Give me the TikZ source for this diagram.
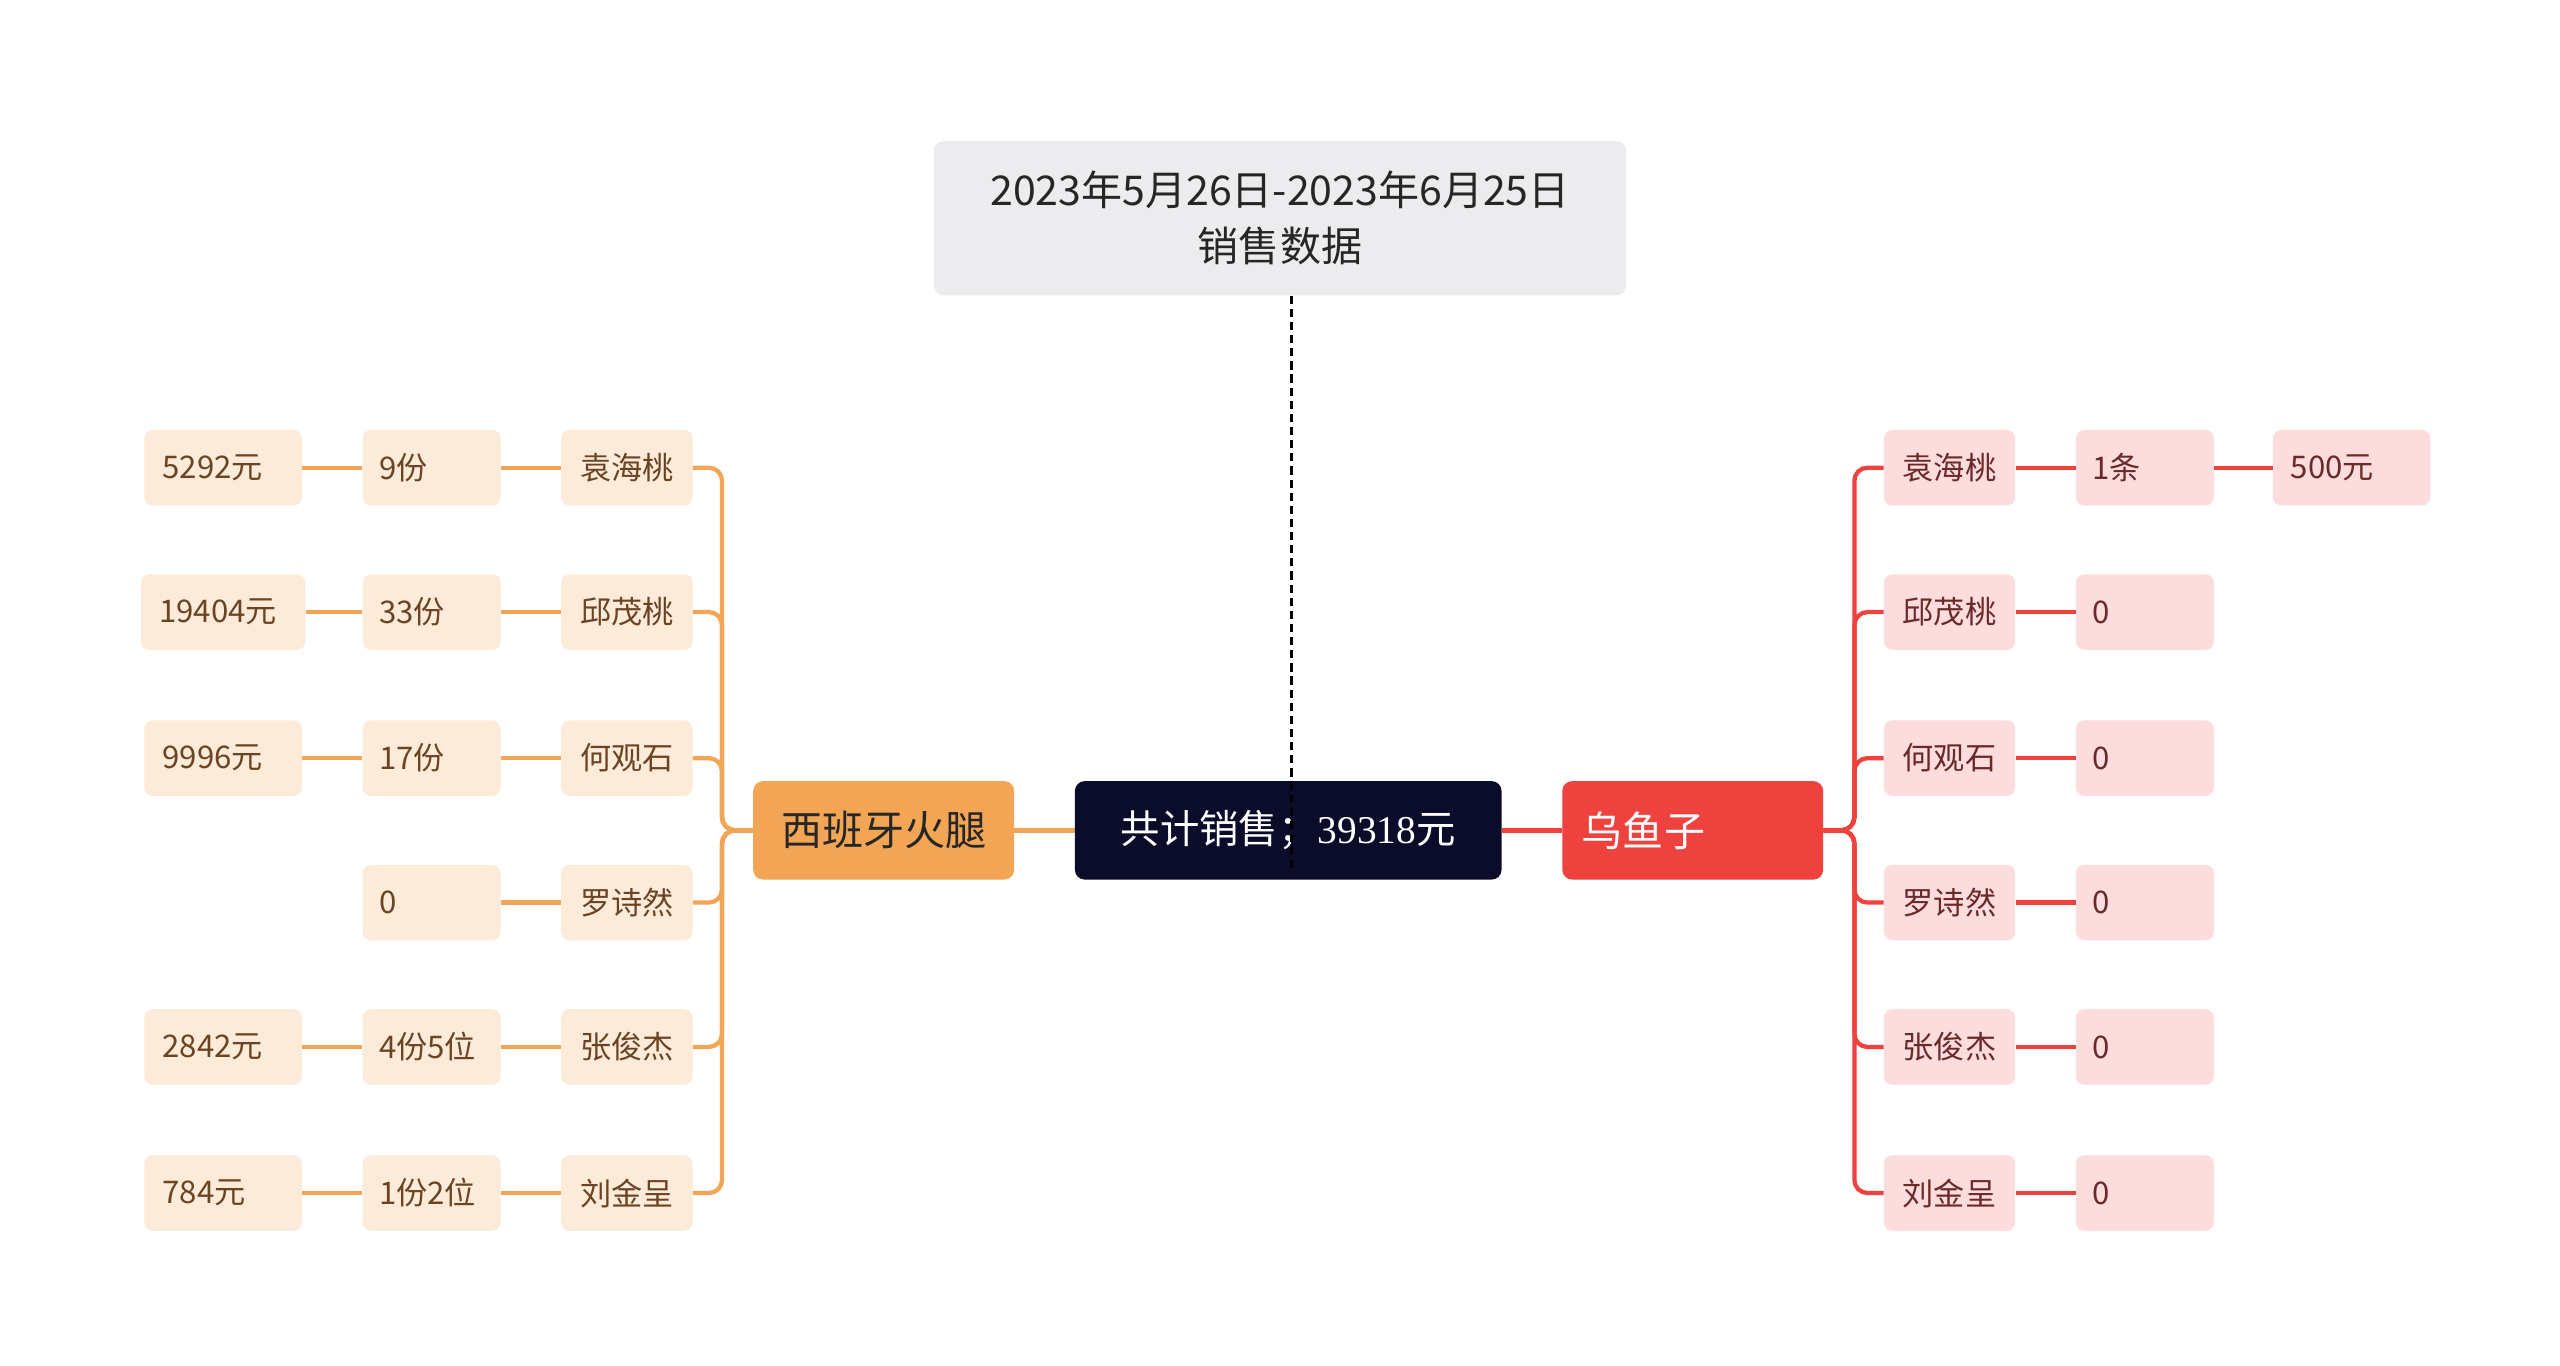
\documentclass[tikz,border=0pt]{standalone}
\usepackage{fontspec}
\setmainfont{Noto Sans CJK SC}
\newfontfamily\serifdig{Liberation Serif}
\definecolor{lfill}{HTML}{FDEBDA}
\definecolor{ltext}{HTML}{6B4424}
\definecolor{rfill}{HTML}{FDDCDD}
\definecolor{rtext}{HTML}{6B2A2A}
\definecolor{lcol}{HTML}{F2A554}
\definecolor{rcol}{HTML}{EE423E}
\definecolor{navy}{HTML}{0B0B2A}
\definecolor{tfill}{HTML}{ECECEE}
\begin{document}
\begin{tikzpicture}[x=1pt,y=-1pt,
  base/.style={rounded corners=5pt,minimum height=46pt,inner sep=0pt,font=\fontsize{19}{22}\selectfont},
  lbox/.style={base,fill=lfill,text=ltext},
  rbox/.style={base,fill=rfill,text=rtext},
  lline/.style={draw=lcol,line width=2.6pt},
  rline/.style={draw=rcol,line width=2.6pt}]
\useasboundingbox (0,0) rectangle (1560,832);
\fill[white] (0,0) rectangle (1560,832);
% main nodes
\node[rounded corners=6pt,fill=tfill,minimum width=422pt,minimum height=94pt,align=center,font=\fontsize{25}{34}\selectfont,text=black!85] (title) at (780,133) {2023年5月26日-2023年6月25日\\销售数据};
\node[rounded corners=6pt,fill=lcol,minimum width=159pt,minimum height=60pt,font=\fontsize{25}{30}\selectfont,text=black!85] (L) at (538.5,506) {西班牙火腿};
\node[rounded corners=6pt,fill=rcol,minimum width=159pt,minimum height=60pt,font=\fontsize{25}{30}\selectfont,text=white,text width=135pt] (R) at (1031.5,506) {乌鱼子};
\draw[lline] (L.east) -- (655,506);
\draw[rline] (R.west) -- (915,506);
\node[rounded corners=6pt,fill=navy,minimum width=260pt,minimum height=60pt,font=\fontsize{24}{30}\selectfont,text=white] (C) at (785,506) {共计销售；{\serifdig 39318}元};
\coordinate (dend) at (787,532);
\draw[dash pattern=on 5pt off 3pt,line width=2.2pt] (title.south -| dend) -- (dend);
% left
\foreach \i/\y/\n/\m in {1/285/袁海桃/9份,2/373/邱茂桃/33份,3/462/何观石/17份,4/550/罗诗然/0,5/638/张俊杰/4份5位,6/727/刘金呈/1份2位}{
  \node[lbox,minimum width=80pt] (ln\i) at (382,\y) {\n};
  \node[lbox,minimum width=84pt,text width=64pt,align=left] (lm\i) at (263,\y) {\m};
  \draw[lline] (lm\i) -- (ln\i);
  \draw[lline,rounded corners=8pt] (ln\i.east) -- (440,\y) -- (440,506) -- (L.west);
}
\foreach \i/\y/\f/\w in {1/285/5292元/96,2/373/19404元/100,3/462/9996元/96,5/638/2842元/96,6/727/784元/96}{
  \node[lbox,minimum width=\w pt,text width=\w pt-22pt,align=left] (lf\i) at (136,\y) {\f};
  \draw[lline] (lf\i) -- (lm\i);
}
% right
\foreach \i/\y/\n/\m in {1/285/袁海桃/1条,2/373/邱茂桃/0,3/462/何观石/0,4/550/罗诗然/0,5/638/张俊杰/0,6/727/刘金呈/0}{
  \node[rbox,minimum width=80pt] (rn\i) at (1188,\y) {\n};
  \node[rbox,minimum width=84pt,text width=64pt,align=left] (rm\i) at (1307,\y) {\m};
  \draw[rline] (rn\i) -- (rm\i);
  \draw[rline,rounded corners=8pt] (rn\i.west) -- (1130,\y) -- (1130,506) -- (R.east);
}
\node[rbox,minimum width=96pt,text width=74pt,align=left] (rf1) at (1433,285) {500元};
\draw[rline] (rm1) -- (rf1);
\end{tikzpicture}
\end{document}
